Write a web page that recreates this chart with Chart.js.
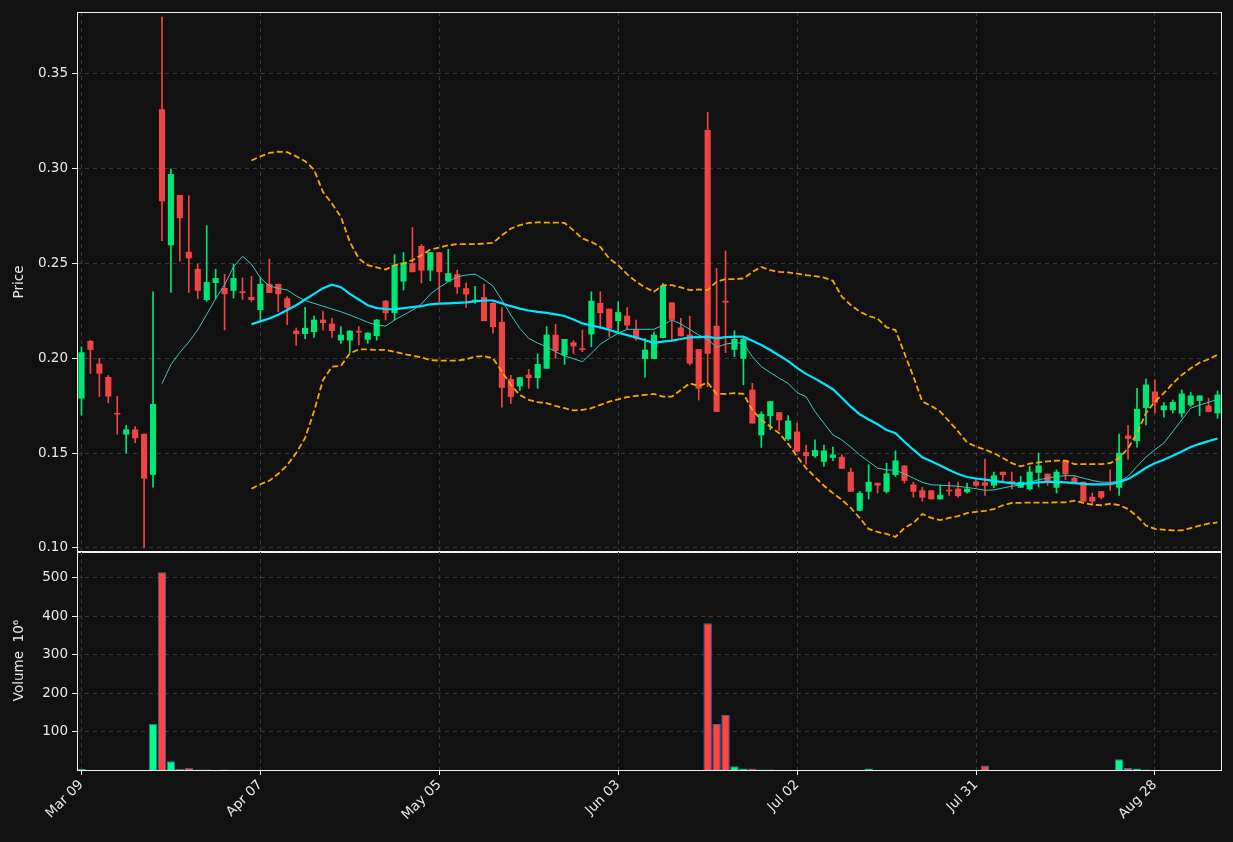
<!DOCTYPE html>
<html><head><meta charset="utf-8">
<script src="https://cdn.jsdelivr.net/npm/chart.js@4/dist/chart.umd.min.js"></script>
<style>
html,body{margin:0;padding:0;background:#111111;width:1233px;height:842px;overflow:hidden}
#c1{position:absolute;left:0;top:0}
#c2{position:absolute;left:0;top:539px}
</style></head><body>
<canvas id="c1" width="1233" height="564"></canvas>
<canvas id="c2" width="1233" height="303"></canvas>
<script>
const tickLabels = ['Mar 09','Apr 07','May 05','Jun 03','Jul 02','Jul 31','Aug 28'];
const tickEvery = 20;
const opens = [.179,.209,.197,.190,.171,.160,.1623,.160,.1387,.3312,.2598,.286,.256,.247,.2309,.2399,.2369,.2358,.2348,.2322,
.2256,.2391,.2391,.2315,.2144,.213,.214,.2202,.2181,.2096,.2096,.2142,.21,.2119,.2302,.224,.2407,.25,.2591,.2465,
.2558,.2407,.2442,.2368,.2302,.2321,.229,.219,.1889,.1854,.1912,.1898,.1947,.2123,.2018,.2082,.2048,.2128,.229,.226,
.2198,.2223,.2149,.1998,.1998,.2109,.2293,.2161,.2123,.2047,.3202,.217,.230,.2047,.20,.1833,.1595,.1697,.1714,.1575,
.1612,.1504,.1486,.1456,.1477,.1479,.14,.1198,.1298,.1342,.1298,.1386,.1433,.1333,.1302,.1302,.1258,.1302,.1311,.1296,
.1349,.1344,.133,.14,.1349,.1319,.1311,.1398,.139,.1319,.146,.1368,.1347,.1268,.1298,.1335,.1319,.1591,.1565,.174,
.1823,.1728,.1728,.1711,.1754,.1777,.1749,.1711];
const highs = [.206,.2095,.200,.191,.180,.1647,.164,.160,.235,.380,.300,.286,.2858,.2497,.270,.247,.2443,.2497,.2424,.2432,
.2424,.2523,.2391,.2325,.2159,.2269,.2223,.2246,.2211,.2167,.2146,.2167,.2135,.2205,.2305,.2547,.2558,.269,.26,.2558,
.2558,.2575,.2465,.2398,.238,.239,.2295,.2268,.191,.19,.1942,.2023,.2167,.2179,.21,.2093,.2149,.2351,.2351,.226,
.2298,.2268,.2202,.2105,.214,.2395,.2293,.2211,.2223,.2047,.3298,.2474,.2567,.2146,.2114,.1868,.1718,.1772,.1714,.1698,
.1658,.1542,.157,.1542,.1532,.1491,.1421,.1298,.1439,.1342,.1447,.1512,.1433,.1347,.132,.1302,.133,.1347,.1347,.1342,
.1368,.1468,.14,.14,.14,.1377,.143,.15,.139,.1412,.146,.1377,.1347,.129,.1298,.1412,.16,.1647,.1842,.189,
.1886,.1767,.178,.1833,.182,.1802,.179,.1828];
const lows = [.170,.192,.1799,.1765,.160,.150,.1555,.100,.132,.262,.2347,.2512,.2347,.2315,.230,.2315,.215,.2318,.2311,.230,
.2196,.2346,.2245,.2177,.2068,.2104,.211,.2149,.211,.2079,.203,.207,.2079,.2096,.2202,.2202,.236,.2456,.2398,.2409,
.2298,.2407,.2342,.2268,.229,.2198,.2132,.1742,.1762,.183,.1842,.1842,.1947,.20,.1968,.2026,.2035,.2061,.2158,.2114,
.214,.2153,.2096,.19,.1998,.2109,.2096,.2118,.1965,.178,.1851,.1719,.203,.2009,.186,.1658,.153,.1623,.162,.1567,
.1509,.1442,.1477,.143,.146,.1419,.1298,.1198,.1258,.1289,.1289,.1377,.1342,.1268,.1246,.1258,.1258,.1277,.1267,.1289,
.1325,.1277,.1318,.135,.1311,.1319,.1305,.1321,.133,.129,.136,.1347,.1246,.1228,.1258,.1304,.1277,.1468,.1532,.1649,
.1711,.169,.1711,.169,.1746,.1698,.1719,.1684];
const closes = [.203,.2046,.1921,.180,.1705,.1623,.158,.1367,.1757,.283,.297,.2741,.2529,.2358,.240,.2422,.234,.2422,.2346,.2309,
.2391,.2346,.234,.2267,.213,.2159,.2202,.2188,.2146,.2123,.2144,.2138,.2133,.2202,.224,.2491,.2504,.2456,.2465,.2558,
.2456,.2447,.2377,.2339,.2307,.2198,.2167,.1846,.1798,.1898,.1898,.1968,.2123,.204,.21,.2065,.2046,.2302,.224,.2158,
.2242,.2175,.2105,.2044,.2123,.2381,.2205,.2118,.1974,.1842,.2026,.1719,.2296,.21,.21,.1658,.1705,.1772,.1675,.167,
.1509,.1486,.1514,.1512,.1491,.1419,.1298,.1289,.1347,.133,.1391,.146,.1356,.1298,.1267,.1258,.1279,.13,.1275,.1311,
.133,.133,.1381,.1386,.1345,.1347,.14,.1433,.1351,.14,.139,.1347,.1246,.1246,.1267,.1332,.15,.1577,.1732,.186,
.1767,.1749,.1768,.1812,.1802,.1802,.1719,.1807];
// volume in 10^6
const volumes = [3,0,0,0,0,0,0,0,120,515,23,3,6,1.5,1,0,1,0,0,0,
0,0,0,0,0,0,0,0,0,0,0,0,0,0,0,0,0,0,0,0,
0,0,0,0,0,0,0,0,0,0,0,0,0,0,0,0,0,0,0,0,
0,0,0,0,0,0,0,0,0,0,382,120,144,10,4,4,1,1,0,0,
0,0,0,0,0,0,0,0,4,0,0,0,0,0,0,0,0,0,0,0,
0,12,0,0,0,0,0,0,0,0,0,0,0,0,0,0,28,5,4,1.5,
0,0,0,0,0,0,0,0];
const ma10 = Array(9).fill(null).concat([.1866,.1967,.2031,.2086,.215,.2232,.2314,.2388,.2483,.2538,.2497,
.2424,.2382,.2369,.236,.2329,.2305,.229,.2275,.226,.2246,.2228,.221,.219,.2175,.217,.2202,.2228,.2254,.2286,.2339,
.2374,.2404,.243,.2439,.2444,.2416,.2381,.2307,.2228,.2158,.2105,.208,.2061,.2035,.2012,.1998,.1982,.2026,.2075,.2105,
.2132,.2153,.2153,.2153,.2153,.2175,.2202,.2181,.2153,.2123,.21,.2058,.2075,.2082,.2079,.2009,.1956,.1925,.1895,.1868,
.1819,.1798,.1719,.1658,.1596,.157,.1532,.1491,.1456,.1421,.1412,.1409,.1391,.1368,.1346,.1333,.1331,.1328,.1325,.1319,
.1312,.1304,.1306,.1316,.1325,.1333,.1346,.136,.1368,.1377,.1381,.1381,.1368,.1356,.1347,.1346,.1351,.1377,.143,.1479,
.1518,.1553,.1614,.1675,.1737,.1754,.1768,.1784]);
const ma20 = Array(19).fill(null).concat([.218,
.2195,.221,.223,.2255,.228,.231,.234,.237,.2388,.2375,.234,.231,.228,.2265,.226,.2258,.2265,.227,.2275,.2285,
.2288,.229,.2292,.2295,.23,.2305,.2305,.229,.2275,.2262,.2252,.2245,.224,.2232,.2223,.2205,.2184,.2173,.2163,.215,
.2135,.2122,.211,.2095,.2082,.2088,.2093,.2102,.211,.2112,.2114,.2105,.2112,.2114,.2114,.2093,.207,.2044,.2015,.1985,
.195,.1918,.1893,.1866,.1837,.1792,.1745,.1705,.1677,.1652,.1622,.1605,.156,.1518,.1478,.1457,.1435,.1411,.139,.1374,
.1366,.136,.1354,.1347,.1342,.1337,.1342,.1346,.1348,.1349,.1346,.1342,.1338,.1335,.1335,.1337,.1347,.1363,.1391,.1423,
.1447,.1465,.1486,.1509,.1532,.1549,.1563,.1577]);
const upperBand = Array(19).fill(null).concat([.3043,
.3065,.3083,.309,.3087,.3065,.304,.2995,.2877,.2816,.2746,.2614,.2526,.2491,.2479,.2468,.2491,.25,.2518,.2544,.2574,
.2584,.2596,.2602,.2602,.2602,.2605,.2609,.2649,.2684,.2702,.2714,.2717,.2716,.2716,.2714,.2675,.2632,.2614,.2588,.2526,
.2491,.2444,.2404,.2374,.2351,.2386,.2386,.2374,.236,.2363,.236,.2404,.2418,.2418,.2421,.2456,.2482,.2465,.2456,.2453,
.2447,.2439,.2433,.2426,.2409,.2325,.2281,.2246,.2223,.2209,.2163,.2149,.2026,.1904,.1772,.1749,.1719,.1667,.1614,.1556,
.1535,.1518,.15,.1474,.1447,.143,.1444,.1451,.1456,.146,.146,.1442,.1442,.1442,.1442,.1447,.1474,.1526,.1605,.1711,
.1772,.1816,.1868,.1912,.1947,.1977,.1995,.2018]);
const lowerBand = Array(19).fill(null).concat([.1312,
.1336,.1354,.1391,.1437,.15,.158,.172,.1886,.1956,.196,.2026,.2047,.2047,.2044,.2044,.2035,.2023,.2014,.2005,.1991,
.1988,.1988,.1988,.1995,.2009,.2012,.20,.193,.186,.1807,.1781,.1769,.1763,.1749,.1737,.1725,.1728,.1737,.1754,.1772,
.1784,.1795,.1802,.1807,.1812,.1798,.1798,.1833,.1868,.1854,.1872,.1812,.1812,.1816,.1812,.1728,.1675,.164,.1605,.1549,
.1482,.1421,.1374,.1328,.1289,.1254,.1211,.1158,.110,.1084,.1074,.1058,.1105,.1132,.1179,.1158,.1147,.1158,.1168,.1184,
.119,.1195,.1205,.1225,.1237,.1238,.1239,.1239,.1239,.124,.124,.1249,.1237,.1228,.1225,.1233,.1226,.1205,.1167,.1118,
.11,.1096,.1093,.1093,.1105,.1118,.1128,.1135]);

const N = opens.length;
const cats = opens.map((_, i) => i);
const UP = '#00e676', DOWN = '#ef4444';
const up = opens.map((o, i) => closes[i] >= o);
const FONT = {family: 'DejaVu Sans', size: 13.5};
const TXT = '#e8e8e8', GRID = '#3a3a3a';

const boxPlugin = {id: 'box', afterDraw(ch) {
  const a = ch.chartArea, c = ch.ctx;
  c.save(); c.strokeStyle = '#f0f0f0'; c.lineWidth = 1;
  c.strokeRect(Math.round(a.left) + 0.5, Math.round(a.top) + 0.5, Math.round(a.right - a.left) - 1, Math.round(a.bottom - a.top));
  c.restore();
}};
const xGrid = {
  display: true, drawTicks: false, offset: false, lineWidth: 1,
  color: (ctx) => (ctx.index % tickEvery === 0 ? GRID : 'transparent'),
};
const dashBorder = {display: false, dash: [4, 4]};

new Chart(document.getElementById('c1'), {
  data: {
    labels: cats,
    datasets: [
      {type: 'line', data: upperBand, borderColor: '#ffa500', borderWidth: 1.8, borderDash: [6, 3], pointRadius: 0, spanGaps: true, order: 1},
      {type: 'line', data: lowerBand, borderColor: '#ffa500', borderWidth: 1.8, borderDash: [6, 3], pointRadius: 0, spanGaps: true, order: 1},
      {type: 'line', data: ma10, borderColor: '#3cc7c2', borderWidth: 1, pointRadius: 0, spanGaps: true, order: 2},
      {type: 'line', data: ma20, borderColor: '#00e5ff', borderWidth: 2.2, pointRadius: 0, spanGaps: true, order: 0},
      {type: 'bar', data: lows.map((l, i) => [l, highs[i]]), backgroundColor: up.map(u => u ? UP : DOWN),
        barThickness: 1, grouped: false, order: 4},
      {type: 'bar', data: opens.map((o, i) => [Math.min(o, closes[i]), Math.max(o, closes[i])]),
        backgroundColor: up.map(u => u ? UP : DOWN), barThickness: 5.5, minBarLength: 1, grouped: false, order: 3},
    ]
  },
  options: {
    animation: false, responsive: false, devicePixelRatio: 1,
    layout: {padding: {left: 0, right: 11, top: 11, bottom: 0}},
    plugins: {legend: {display: false}, tooltip: {enabled: false}},
    scales: {
      x: {type: 'category', offset: true, grid: xGrid, border: dashBorder,
        ticks: {display: false}, afterFit: s => { s.height = 0; }},
      y: {min: 0.0979, max: 0.3826, border: dashBorder,
        grid: {color: GRID, tickLength: 5, tickColor: '#f0f0f0'},
        afterBuildTicks: s => { s.ticks = [0.10,0.15,0.20,0.25,0.30,0.35].map(v => ({value: v})); },
        ticks: {color: TXT, font: FONT, padding: 4, callback: v => v.toFixed(2)},
        title: {display: true, text: 'Price', color: TXT, font: FONT, padding: {top: 11, bottom: 0}},
        afterFit: s => { s.width = 77; }}
    }
  },
  plugins: [boxPlugin]
});

new Chart(document.getElementById('c2'), {
  type: 'bar',
  data: {
    labels: cats,
    datasets: [{data: volumes, backgroundColor: up.map(u => u ? '#00ff88' : '#ff4444'),
      borderColor: '#1f77b4', borderWidth: 1, categoryPercentage: 1, barPercentage: 0.95}]
  },
  options: {
    animation: false, responsive: false, devicePixelRatio: 1,
    layout: {padding: {left: 0, right: 11, top: 0, bottom: 0}},
    plugins: {legend: {display: false}, tooltip: {enabled: false}},
    scales: {
      x: {type: 'category', offset: true, grid: {...xGrid, drawTicks: true, tickLength: 5,
          tickColor: (ctx) => (ctx.index % tickEvery === 0 ? '#f0f0f0' : 'transparent')},
        border: dashBorder,
        ticks: {color: TXT, font: FONT, autoSkip: false, minRotation: 45, maxRotation: 45, padding: 2,
          callback: (v, i) => (i % tickEvery === 0 ? tickLabels[i / tickEvery] : '')},
        afterFit: s => { s.height = 72; }},
      y: {min: 0, max: 570, border: dashBorder,
        grid: {color: GRID, tickLength: 5, tickColor: '#f0f0f0'},
        afterBuildTicks: s => { s.ticks = [100,200,300,400,500].map(v => ({value: v})); },
        ticks: {color: TXT, font: FONT, padding: 4},
        title: {display: true, text: 'Volume  10\u2076', color: TXT, font: FONT, padding: {top: 11, bottom: 0}},
        afterFit: s => { s.width = 77; }}
    }
  },
  plugins: [boxPlugin]
});
</script>
</body></html>
